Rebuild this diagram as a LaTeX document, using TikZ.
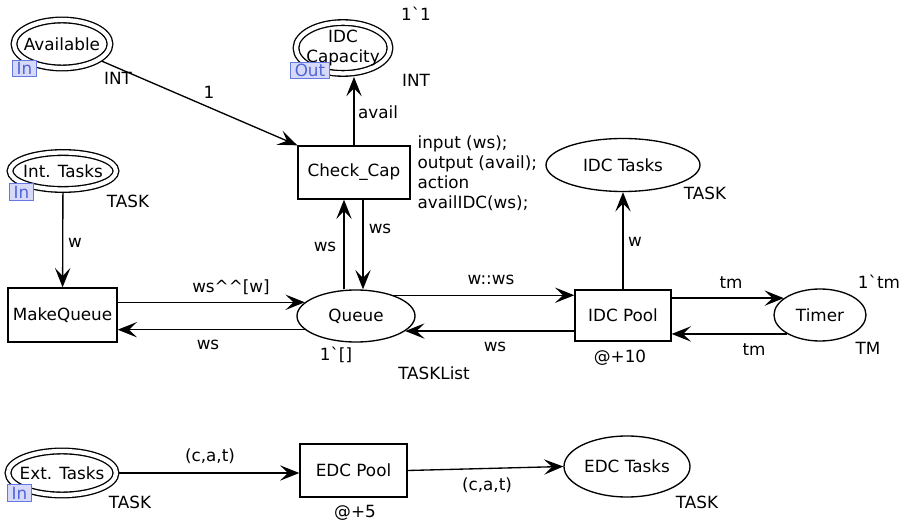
\documentclass[tikz,border=0pt]{standalone}
\usepackage{fontspec}
\setmainfont{DejaVu Sans}
\usepackage{xcolor}
\usepackage{tikz}
\usetikzlibrary{arrows.meta, positioning, calc, shapes.geometric}
\definecolor{tagfill}{RGB}{214,218,248}
\definecolor{tagline}{RGB}{100,120,225}
\definecolor{tagtext}{RGB}{80,100,215}

\begin{document}
\begin{tikzpicture}[x=0.75pt, y=-0.75pt, line width=1pt,
    every node/.style={font=\fontsize{12.6}{15}\selectfont, inner sep=0pt, align=center},
    placenode/.style={draw, ellipse},
    portplace/.style={draw, ellipse, double, double distance=3.2pt, outer sep=2.6pt, inner xsep=-10pt},
    transbox/.style={draw, rectangle},
    porttag/.style={draw=tagline, fill=tagfill, text=tagtext, line width=0.7pt, inner xsep=3pt, inner ysep=1pt, minimum height=12.5pt},
    arcline/.style={-{Stealth[length=14.5pt, width=11.5pt, inset=6pt]}}]
    \useasboundingbox (0,0) rectangle (904,524);

    \node[portplace, minimum width=72pt, minimum height=36pt] (avail) at (62,44) {Available};
    \node[portplace, minimum width=70.5pt, minimum height=34.5pt] (idccap) at (343,48) {IDC\\Capacity};
    \node[portplace, minimum width=79.5pt, minimum height=27.75pt] (inttasks) at (63,171) {Int. Tasks};
    \node[portplace, minimum width=81pt, minimum height=33pt] (exttasks) at (62,473) {Ext. Tasks};
    \node[transbox, minimum width=84pt, minimum height=39.75pt] (checkcap) at (354,172.5) {Check\_Cap};
    \node[transbox, minimum width=81.75pt, minimum height=40.5pt] (makequeue) at (62.5,315) {MakeQueue};
    \node[placenode, minimum width=88.5pt, minimum height=39pt] (queue) at (356,316) {Queue};
    \node[transbox, minimum width=72pt, minimum height=38.25pt] (idcpool) at (623,315.5) {IDC Pool};
    \node[placenode, minimum width=115.5pt, minimum height=39.75pt] (idctasks) at (623,165) {IDC Tasks};
    \node[placenode, minimum width=69pt, minimum height=39pt] (timer) at (820,315) {Timer};
    \node[transbox, minimum width=80.25pt, minimum height=39.75pt] (edcpool) at (353.5,470.5) {EDC Pool};
    \node[placenode, minimum width=94.5pt, minimum height=45.75pt] (edctasks) at (627,466.5) {EDC Tasks};

    \draw[arcline] (avail) -- (checkcap.north west);
    \draw[arcline] (checkcap.north) -- (checkcap.north |- idccap.south);
    \draw[arcline] (inttasks) -- (makequeue);
    \draw[arcline] (queue.165 -| makequeue.east) -- (queue.165);
    \draw[arcline] (queue.195) -- (queue.195 -| makequeue.east);
    \draw[arcline] ($(queue.north)+(-12,0)$) -- ($(checkcap.south)+(-10,0)$);
    \draw[arcline] ($(checkcap.south)+(9,0)$) -- ($(queue.north)+(7,0)$);
    \draw[arcline] (queue.29) -- (queue.29 -| idcpool.west);
    \draw[arcline] (queue.343 -| idcpool.west) -- (queue.343);
    \draw[arcline] (idcpool) -- (idctasks);
    \draw[arcline] (timer.155 -| idcpool.east) -- (timer.155);
    \draw[arcline] (timer.210) -- (timer.210 -| idcpool.east);
    \draw[arcline] (exttasks.east) -- (exttasks.east -| edcpool.west);
    \draw[arcline] (edcpool.east) -- (edctasks.west);

    \node[porttag] (avail-tag) at (24.5,68.5) {In};
    \node[porttag] (idccap-tag) at (310,70.5) {Out};
    \node[porttag] (inttasks-tag) at (21.5,192) {In};
    \node[porttag] (exttasks-tag) at (19.5,493) {In};

    \node (avail-type) at (118,78) {INT};
    \node (idccap-init) at (416,14) {1\textasciigrave1};
    \node (idccap-type) at (416,80) {INT};
    \node (inttasks-type) at (128,201) {TASK};
    \node (exttasks-type) at (130,502) {TASK};
    \node (idctasks-type) at (705,193) {TASK};
    \node (edctasks-type) at (697,502) {TASK};
    \node (queue-init) at (336,355) {1\textasciigrave[]};
    \node (queue-type) at (434,373) {TASKList};
    \node (timer-init) at (879,282) {1\textasciigrave tm};
    \node (timer-type) at (868,348) {TM};
    \node (idcpool-time) at (620,358) {@+10};
    \node (edcpool-time) at (355,513) {@+5};
    \node[anchor=west, align=left] (checkcap-code) at (417,173) {input (ws);\\output (avail);\\action\\availIDC(ws);};

    \node (arc-one) at (209,92) {1};
    \node (arc-avail) at (378,112) {avail};
    \node (arc-wsup) at (325,247) {ws};
    \node (arc-wsdown) at (380,229) {ws};
    \node (arc-w) at (75,243) {w};
    \node (arc-append) at (231,287) {ws\textasciicircum\textasciicircum[w]};
    \node (arc-wsback) at (208,345) {ws};
    \node (arc-cons) at (491,280) {w::ws};
    \node (arc-wsret) at (495,347) {ws};
    \node (arc-wout) at (635,242) {w};
    \node (arc-tmout) at (731,283) {tm};
    \node (arc-tmin) at (754,350) {tm};
    \node (arc-extin) at (210,456) {(c,a,t)};
    \node (arc-extout) at (487,485) {(c,a,t)};
\end{tikzpicture}
\end{document}
